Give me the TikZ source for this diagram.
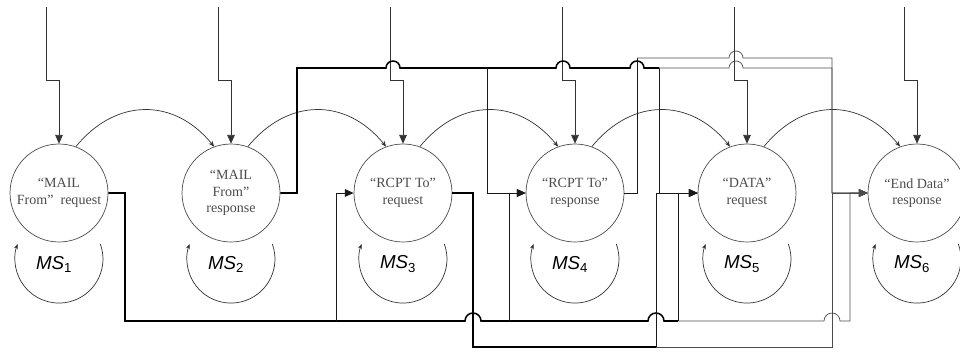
\documentclass[tikz,border=0pt]{standalone}
\usepackage{fontspec}
\setmainfont{Liberation Serif}
\newfontfamily\msfont{Liberation Sans}
\usetikzlibrary{arrows.meta,calc}
\begin{document}
\begin{tikzpicture}[x=0.03cm,y=0.03cm,
  state/.style={circle,draw=black!70,line width=0.6pt,minimum size=2.94cm,inner sep=0pt,align=center,font=\fontsize{12}{14}\selectfont,text=black!70},
  thickwire/.style={line width=1.3pt,black},
  branchwire/.style={line width=0.85pt,black!90},
  thinwire/.style={line width=0.6pt,black!70},
  inwire/.style={line width=0.7pt,black!80},
  tri/.style={-{Triangle[length=7.5pt,width=6.5pt]}},
  curv/.style={line width=0.6pt,black!80,-{Stealth[length=5pt,width=4pt]}},
  selfloop/.style={line width=0.6pt,black!80,-{Stealth[length=4.5pt,width=3.5pt]}},
  mslabel/.style={font=\msfont\fontsize{16}{19}\selectfont}
]
\useasboundingbox (0,0) rectangle (960,353);

% states
\node[state] (c1) at (59,160)  {“MAIL\\From”\ \ request};
\node[state] (c2) at (231,160) {“MAIL\\From”\\response};
\node[state] (c3) at (403,160) {“RCPT To”\\request};
\node[state] (c4) at (575,160) {“RCPT To”\\response};
\node[state] (c5) at (747,160) {“DATA”\\request};
\node[state] (c6) at (917,160) {“End Data”\\response};

% self loops and labels
\foreach \i in {1,...,6}{
  \draw[selfloop] ([shift={(41.3,-51)}]c\i.center) arc[start angle=20,end angle=-200,radius=44];
  \node[mslabel] (ms\i) at ([shift={(-5,-71)}]c\i.center) {{\itshape MS}\textsubscript{\i}};
}

% curved transitions
\draw[curv] (c1.70) .. controls +(40,49) and +(-40,49) .. (c2.110);
\draw[curv] (c2.70) .. controls +(40,49) and +(-40,49) .. (c3.110);
\draw[curv] (c3.70) .. controls +(40,49) and +(-40,49) .. (c4.110);
\draw[curv] (c4.70) .. controls +(40,49) and +(-40,49) .. (c5.110);
\draw[curv] (c5.70) .. controls +(40,49) and +(-40,49) .. (c6.110);

% external inputs from the top
\foreach \i/\x in {1/59,2/231,3/403,4/575,5/747,6/917}{
  \coordinate (ti\i) at (\x-13,346);
  \draw[inwire,tri] (ti\i) -- (\x-13,273) -- (\x,273) -- (c\i.north);
}

% junction coordinates
\coordinate (b1c3) at (336,32);
\coordinate (b1c4) at (509,32);
\coordinate (b1c5) at (678,32);
\coordinate (b2c5) at (656,6);
\coordinate (b3c4) at (487,285);
\coordinate (b3c5) at (659,285);
\coordinate (b3c6) at (832,285);
\coordinate (b4up) at (637,295);

% wire from MS1 (bottom bus)
\draw[thickwire] (c1.east) -- (125,160) -- (125,32) -- (465,32)
  arc[start angle=180,end angle=0,radius=8] -- (648,32)
  arc[start angle=180,end angle=0,radius=8] -- (b1c5);
\draw[thinwire,tri] (b1c5) -- (824,32) arc[start angle=180,end angle=0,radius=8]
  -- (850,32) -- (850,160) -- (c6.west);
\draw[branchwire,tri] (b1c3) -- (336,160) -- (c3.west);
\draw[branchwire,tri] (b1c4) -- (509,160) -- (c4.west);
\draw[branchwire,tri] (b1c5) -- (678,160) -- (c5.west);

% wire from MS3 (lowest bus)
\draw[thickwire] (c3.east) -- (473,160) -- (473,6) -- (b2c5);
\draw[branchwire,tri] (b2c5) -- (656,160) -- (c5.west);
\draw[thinwire,tri] (b2c5) -- (832,6) -- (832,160) -- (c6.west);

% wire from MS2 (top bus)
\draw[thickwire] (c2.east) -- (297,160) -- (297,285) -- (386,285)
  arc[start angle=180,end angle=0,radius=7] -- (556,285)
  arc[start angle=180,end angle=0,radius=7] -- (630,285)
  arc[start angle=180,end angle=0,radius=7] -- (b3c5);
\draw[branchwire,tri] (b3c4) -- (487,160) -- (c4.west);
\draw[branchwire,tri] (b3c5) -- (659,160) -- (c5.west);
\draw[thinwire,tri] (b3c5) -- (729,285) arc[start angle=180,end angle=0,radius=7]
  -- (b3c6) -- (832,160) -- (c6.west);

% wire from MS4 (highest bus)
\draw[branchwire] (c4.east) -- (637,160) -- (b4up);
\draw[thinwire,tri] (b4up) -- (729,295)
  arc[start angle=180,end angle=0,radius=7] -- (832,295) -- (832,160) -- (c6.west);
\end{tikzpicture}
\end{document}
